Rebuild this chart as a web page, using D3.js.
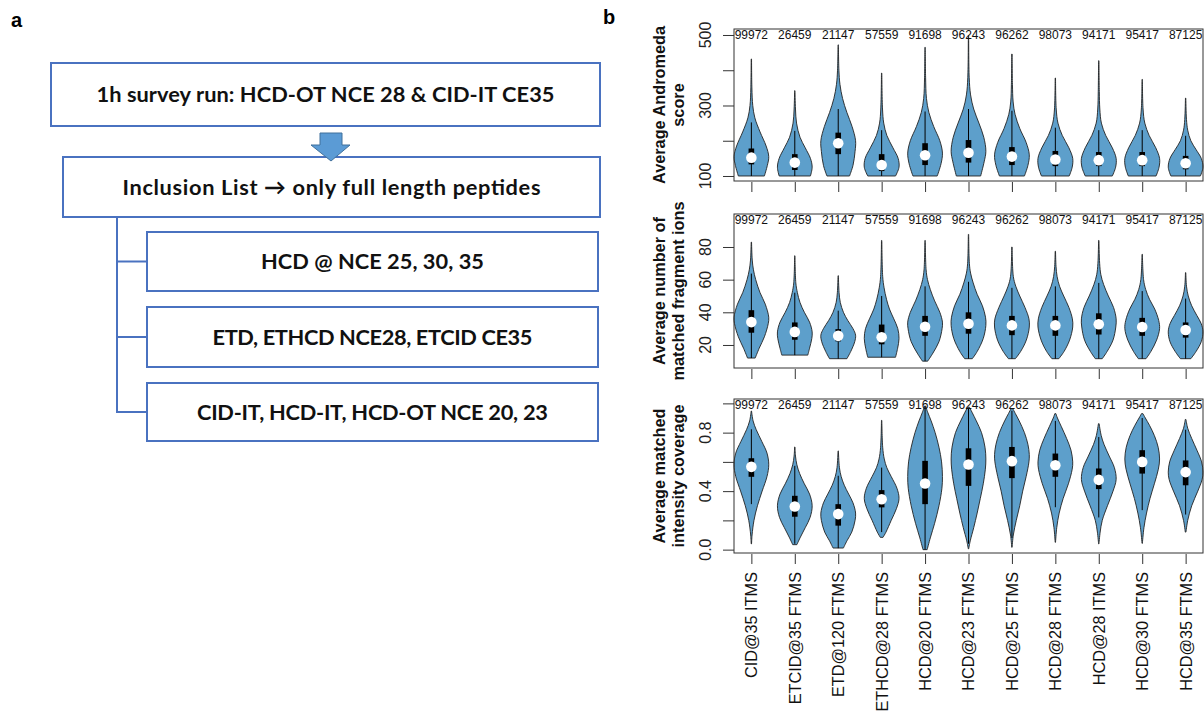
<!DOCTYPE html>
<html>
<head>
<meta charset="utf-8">
<script src="https://cdn.jsdelivr.net/npm/d3@7"></script>
<style>
  body { margin: 0; background: #fff; }
  svg { display: block; font-family: "Liberation Sans", Arial, sans-serif; }
</style>
</head>
<body>
<div id="chart"></div>
<script>
// ---- data ----
const flowSteps = [
  "1h survey run: HCD-OT NCE 28 & CID-IT CE35",
  "Inclusion List \u2192 only full length peptides",
  "HCD @ NCE 25, 30, 35",
  "ETD, ETHCD NCE28, ETCID CE35",
  "CID-IT, HCD-IT, HCD-OT NCE 20, 23"
];

const categories = ["CID@35 ITMS", "ETCID@35 FTMS", "ETD@120 FTMS", "ETHCD@28 FTMS", "HCD@20 FTMS",
  "HCD@23 FTMS", "HCD@25 FTMS", "HCD@28 FTMS", "HCD@28 ITMS", "HCD@30 FTMS", "HCD@35 FTMS"];
const counts = [99972, 26459, 21147, 57559, 91698, 96243, 96262, 98073, 94171, 95417, 87125];

// panel 1: average Andromeda score
const scoreMedian = [152, 138, 193, 131, 159, 166, 155, 147, 145, 145, 136];
const scoreQ1 = [133, 117, 162, 114, 131, 138, 131, 128, 128, 128, 119];
const scoreQ3 = [178, 162, 223, 162, 193, 202, 182, 171, 168, 168, 157];
const scoreWhiskLo = [100, 100, 100, 100, 100, 100, 100, 100, 100, 100, 100];
const scoreWhiskHi = [252, 228, 290, 230, 283, 290, 285, 237, 230, 230, 214];
// violin outlines: [value, relative half width]
const scoreShape = [
  [[100,0.75],[130,0.92],[155,1],[185,0.85],[225,0.5],[265,0.2],[300,0.08],[350,0.03],[432,0.01]],
  [[100,0.9],[125,1],[150,0.9],[180,0.6],[210,0.3],[250,0.1],[290,0.04],[342,0.01]],
  [[100,0.65],[130,0.85],[170,0.97],[200,1],[240,0.8],[280,0.5],[320,0.25],[360,0.1],[400,0.04],[472,0.01]],
  [[100,0.8],[125,1],[150,0.95],[180,0.65],[215,0.3],[250,0.12],[290,0.05],[392,0.01]],
  [[100,0.7],[135,0.92],[165,1],[200,0.85],[240,0.5],[280,0.22],[320,0.08],[380,0.03],[465,0.01]],
  [[100,0.7],[140,0.9],[170,1],[210,0.88],[250,0.6],[290,0.3],[330,0.12],[380,0.04],[498,0.01]],
  [[100,0.72],[130,0.92],[160,1],[195,0.82],[235,0.45],[275,0.18],[310,0.07],[360,0.03],[446,0.01]],
  [[100,0.8],[125,0.97],[150,1],[180,0.78],[215,0.4],[250,0.15],[290,0.05],[378,0.01]],
  [[100,0.78],[125,0.97],[150,1],[180,0.78],[215,0.4],[250,0.15],[290,0.06],[340,0.03],[427,0.01]],
  [[100,0.8],[125,0.97],[150,1],[180,0.78],[215,0.4],[250,0.15],[290,0.05],[374,0.01]],
  [[100,0.85],[125,1],[150,0.9],[175,0.6],[200,0.3],[230,0.12],[260,0.05],[321,0.01]]
];

// panel 2: average number of matched fragment ions
const ionsMedian = [34, 28, 25.6, 24.7, 31.2, 33, 32, 32, 32.7, 31, 29.2];
const ionsQ1 = [27.5, 23.2, 22.2, 20.4, 25.6, 26.9, 26, 25.6, 26.4, 25.6, 24.5];
const ionsQ3 = [41.3, 33.8, 29.7, 32.5, 37.8, 40, 37.8, 37.8, 39.4, 36.6, 33.8];
const ionsWhiskLo = [12, 13.8, 11.6, 12.5, 10.1, 11.6, 11.6, 11.6, 11.6, 11.6, 11.6];
const ionsWhiskHi = [63.7, 52, 41, 50, 55.9, 58.7, 55, 55.9, 58, 53, 48.4];
const ionsShape = [
  [[12,0.22],[18,0.45],[25,0.75],[33,0.97],[37,1],[45,0.8],[52,0.5],[60,0.25],[66,0.12],[72,0.05],[83,0.01]],
  [[13.8,0.75],[18,0.85],[24,0.98],[28,1],[34,0.85],[40,0.55],[46,0.3],[52,0.15],[58,0.06],[74.6,0.01]],
  [[11.6,0.5],[16,0.72],[22,0.95],[26,1],[30,0.85],[35,0.55],[40,0.3],[46,0.12],[52,0.05],[62.4,0.01]],
  [[12.5,0.8],[18,0.92],[24,1],[30,0.93],[36,0.7],[42,0.45],[48,0.28],[55,0.14],[62,0.06],[84,0.01]],
  [[10.1,0.15],[15,0.45],[22,0.8],[30,0.98],[34,1],[40,0.85],[47,0.55],[54,0.3],[60,0.14],[66,0.06],[84,0.01]],
  [[11.6,0.22],[16,0.5],[24,0.85],[32,1],[37,0.98],[44,0.8],[51,0.5],[58,0.27],[64,0.12],[70,0.05],[87.7,0.01]],
  [[11.6,0.2],[16,0.5],[23,0.83],[31,1],[36,0.98],[43,0.75],[50,0.45],[56,0.22],[62,0.08],[80,0.01]],
  [[11.6,0.2],[16,0.5],[23,0.82],[31,1],[36,0.98],[43,0.78],[50,0.48],[56,0.24],[62,0.1],[68,0.04],[77.4,0.01]],
  [[11.6,0.2],[16,0.48],[23,0.82],[31,0.98],[36,1],[43,0.85],[50,0.55],[57,0.28],[63,0.12],[70,0.05],[84,0.01]],
  [[11.6,0.22],[16,0.5],[23,0.83],[30,1],[35,0.95],[42,0.72],[48,0.42],[54,0.2],[60,0.08],[75.5,0.01]],
  [[11.6,0.3],[16,0.6],[22,0.9],[28,1],[33,0.9],[38,0.65],[44,0.35],[50,0.15],[56,0.05],[64.3,0.01]]
];

// panel 3: average matched intensity coverage
const covMedian = [0.566, 0.295, 0.243, 0.345, 0.452, 0.582, 0.605, 0.577, 0.477, 0.6, 0.53];
const covQ1 = [0.498, 0.225, 0.164, 0.289, 0.311, 0.436, 0.489, 0.498, 0.414, 0.52, 0.44];
const covQ3 = [0.625, 0.368, 0.311, 0.407, 0.607, 0.693, 0.702, 0.657, 0.555, 0.68, 0.61];
const covWhiskLo = [0.311, 0.04, 0.01, 0.12, 0.0, 0.04, 0.08, 0.29, 0.22, 0.27, 0.24];
const covWhiskHi = [0.823, 0.573, 0.505, 0.561, 0.98, 0.97, 0.95, 0.88, 0.77, 0.9, 0.82];
const covShape = [
  [[0.039,0.01],[0.1,0.04],[0.2,0.15],[0.3,0.35],[0.4,0.62],[0.5,0.9],[0.58,1],[0.66,0.9],[0.74,0.6],[0.82,0.28],[0.88,0.1],[0.948,0.01]],
  [[0.034,0.12],[0.08,0.3],[0.15,0.6],[0.22,0.88],[0.3,1],[0.38,0.85],[0.45,0.55],[0.52,0.28],[0.58,0.12],[0.64,0.04],[0.702,0.01]],
  [[0.011,0.3],[0.06,0.5],[0.12,0.78],[0.2,0.97],[0.25,1],[0.32,0.85],[0.38,0.6],[0.44,0.35],[0.5,0.17],[0.56,0.07],[0.675,0.01]],
  [[0.084,0.08],[0.12,0.25],[0.2,0.55],[0.28,0.85],[0.35,1],[0.42,0.88],[0.5,0.55],[0.56,0.3],[0.62,0.15],[0.7,0.06],[0.884,0.01]],
  [[0.0,0.12],[0.08,0.3],[0.18,0.55],[0.3,0.8],[0.42,0.97],[0.5,1],[0.6,0.95],[0.7,0.8],[0.8,0.58],[0.88,0.35],[0.94,0.15],[0.982,0.03]],
  [[0.005,0.01],[0.06,0.1],[0.15,0.3],[0.25,0.5],[0.35,0.68],[0.45,0.85],[0.55,0.97],[0.62,1],[0.7,0.95],[0.8,0.75],[0.88,0.45],[0.94,0.2],[0.975,0.05]],
  [[0.016,0.01],[0.1,0.08],[0.2,0.25],[0.3,0.45],[0.4,0.62],[0.5,0.82],[0.6,0.98],[0.65,1],[0.72,0.92],[0.8,0.72],[0.88,0.42],[0.93,0.2],[0.964,0.05]],
  [[0.05,0.01],[0.15,0.08],[0.25,0.22],[0.35,0.45],[0.45,0.75],[0.55,0.97],[0.6,1],[0.68,0.9],[0.76,0.65],[0.84,0.35],[0.9,0.12],[0.93,0.03]],
  [[0.039,0.01],[0.12,0.08],[0.2,0.2],[0.3,0.5],[0.4,0.82],[0.48,1],[0.56,0.9],[0.64,0.6],[0.72,0.3],[0.78,0.14],[0.861,0.02]],
  [[0.043,0.01],[0.15,0.1],[0.25,0.25],[0.35,0.45],[0.45,0.7],[0.55,0.93],[0.62,1],[0.7,0.92],[0.78,0.7],[0.85,0.42],[0.9,0.18],[0.93,0.04]],
  [[0.12,0.02],[0.2,0.12],[0.3,0.35],[0.4,0.7],[0.48,0.95],[0.53,1],[0.6,0.92],[0.68,0.65],[0.76,0.35],[0.83,0.12],[0.89,0.02]]
];

// ---- page ----
const W = 1204, H = 713;
const svg = d3.select("#chart").append("svg")
  .attr("width", W)
  .attr("height", H);
svg.append("rect").attr("width", W).attr("height", H).attr("fill", "#fff");

// panel letters
svg.append("text").attr("x", 11).attr("y", 27).attr("font-size", 20).attr("font-weight", "bold").text("a");
svg.append("text").attr("x", 603).attr("y", 24).attr("font-size", 20).attr("font-weight", "bold").text("b");

// ---- flowchart (panel a) ----
const flowBoxes = [
  { x: 51, y: 63, w: 549, h: 63, tw: 458 },
  { x: 63, y: 157, w: 537, h: 60, tw: 418 },
  { x: 147, y: 232, w: 451, h: 59, tw: 223 },
  { x: 147, y: 307, w: 451, h: 60, tw: 320 },
  { x: 147, y: 383, w: 451, h: 58, tw: 351 }
];
const flowBlue = "#4a72c0";

const flow = svg.append("g");

// connector from the inclusion list box to the three method boxes
flow.append("line")
  .attr("x1", 117).attr("x2", 117)
  .attr("y1", 217).attr("y2", flowBoxes[4].y + flowBoxes[4].h / 2)
  .attr("stroke", flowBlue).attr("stroke-width", 2);
flow.selectAll(".branch")
  .data(flowBoxes.slice(2))
  .enter().append("line")
  .attr("class", "branch")
  .attr("x1", 116).attr("x2", d => d.x)
  .attr("y1", d => d.y + d.h / 2).attr("y2", d => d.y + d.h / 2)
  .attr("stroke", flowBlue).attr("stroke-width", 2);

flow.selectAll(".fbox")
  .data(flowBoxes)
  .enter().append("rect")
  .attr("class", "fbox")
  .attr("x", d => d.x).attr("y", d => d.y)
  .attr("width", d => d.w).attr("height", d => d.h)
  .attr("fill", "#fff")
  .attr("stroke", flowBlue).attr("stroke-width", 2);

flow.selectAll(".ftext")
  .data(flowBoxes)
  .enter().append("text")
  .attr("class", "ftext")
  .attr("x", d => d.x + d.w / 2)
  .attr("y", d => d.y + d.h / 2)
  .attr("dy", "0.36em")
  .attr("text-anchor", "middle")
  .attr("font-family", "Lato, 'Open Sans', sans-serif")
  .attr("font-weight", "bold")
  .attr("font-size", 21.8)
  .attr("textLength", d => d.tw)
  .attr("fill", "#111")
  .text((d, i) => flowSteps[i]);

// down arrow between first two boxes
flow.append("path")
  .attr("d", "M320,133 L342,133 L342,145 L350,145 L331,161 L311,145 L320,145 Z")
  .attr("fill", "#5b9bd5")
  .attr("stroke", "#41719c")
  .attr("stroke-width", 1);

// ---- violin panels (panel b) ----
const x = d3.scaleLinear()
  .domain([0.6, 11.4])
  .range([734, 1203]);
const halfW = x(1.4) - x(1);

const panels = [
  { title: ["Average Andromeda", "score"], top: 29, bottom: 181, domain: [85.8, 517],
    ticks: [100, 200, 300, 400, 500], labels: [100, 300, 500], fmt: d3.format("d"),
    median: scoreMedian, q1: scoreQ1, q3: scoreQ3, lo: scoreWhiskLo, hi: scoreWhiskHi, shape: scoreShape },
  { title: ["Average number of", "matched fragment ions"], top: 214, bottom: 368, domain: [5.9, 100.2],
    ticks: [20, 40, 60, 80], labels: [20, 40, 60, 80], fmt: d3.format("d"),
    median: ionsMedian, q1: ionsQ1, q3: ionsQ3, lo: ionsWhiskLo, hi: ionsWhiskHi, shape: ionsShape },
  { title: ["Average matched", "intensity coverage"], top: 399, bottom: 553, domain: [-0.023, 1.03],
    ticks: [0, 0.2, 0.4, 0.6, 0.8, 1.0], labels: [0, 0.4, 0.8], fmt: d3.format(".1f"),
    median: covMedian, q1: covQ1, q3: covQ3, lo: covWhiskLo, hi: covWhiskHi, shape: covShape }
];

const violinFill = "#5d9fcb";

panels.forEach(p => {
  const y = d3.scaleLinear().domain(p.domain).range([p.bottom, p.top]);
  const g = svg.append("g");

  // violins
  p.shape.forEach((pts, i) => {
    const cx = x(i + 1);
    const area = d3.area()
      .y(d => y(d[0]))
      .x0(d => cx - d[1] * halfW)
      .x1(d => cx + d[1] * halfW)
      .curve(d3.curveCatmullRom.alpha(0.5));
    g.append("path")
      .attr("d", area(pts))
      .attr("fill", violinFill)
      .attr("stroke", "#222")
      .attr("stroke-width", 0.9);
  });

  // whiskers, boxes, medians
  g.selectAll(".whisk")
    .data(categories)
    .enter().append("line")
    .attr("x1", (d, i) => x(i + 1)).attr("x2", (d, i) => x(i + 1))
    .attr("y1", (d, i) => y(p.lo[i])).attr("y2", (d, i) => y(p.hi[i]))
    .attr("stroke", "#000").attr("stroke-width", 1);

  g.selectAll(".iqr")
    .data(categories)
    .enter().append("rect")
    .attr("x", (d, i) => x(i + 1) - 2.8)
    .attr("width", 5.6)
    .attr("y", (d, i) => y(p.q3[i]))
    .attr("height", (d, i) => y(p.q1[i]) - y(p.q3[i]))
    .attr("fill", "#000");

  g.selectAll(".med")
    .data(categories)
    .enter().append("circle")
    .attr("cx", (d, i) => x(i + 1))
    .attr("cy", (d, i) => y(p.median[i]))
    .attr("r", 5.3)
    .attr("fill", "#fff");

  // frame
  g.append("rect")
    .attr("x", x.range()[0]).attr("y", p.top)
    .attr("width", x.range()[1] - x.range()[0])
    .attr("height", p.bottom - p.top)
    .attr("fill", "none")
    .attr("stroke", "#333").attr("stroke-width", 1);

  // counts along the top
  g.selectAll(".count")
    .data(counts)
    .enter().append("text")
    .attr("x", (d, i) => x(i + 1))
    .attr("y", p.top + 9.5)
    .attr("text-anchor", "middle")
    .attr("font-size", 12)
    .attr("fill", "#111")
    .text(d => d);

  // y axis
  const yAxis = d3.axisLeft(y)
    .tickValues(p.ticks)
    .tickSize(11)
    .tickSizeOuter(0)
    .tickFormat("");
  const ya = g.append("g")
    .attr("transform", `translate(${x.range()[0]},0)`)
    .call(yAxis);
  ya.select(".domain").remove();
  ya.selectAll("line").attr("stroke", "#333");

  g.selectAll(".ylab")
    .data(p.labels)
    .enter().append("text")
    .attr("transform", d => `translate(705,${y(d)}) rotate(-90)`)
    .attr("dy", "0.36em")
    .attr("text-anchor", "middle")
    .attr("font-size", 16)
    .attr("fill", "#222")
    .text(d => p.fmt(d));

  // x ticks under each panel
  const xAxis = d3.axisBottom(x)
    .tickValues(d3.range(1, categories.length + 1))
    .tickSize(10)
    .tickSizeOuter(0)
    .tickFormat("");
  const xa = g.append("g")
    .attr("transform", `translate(0,${p.bottom + 1})`)
    .call(xAxis);
  xa.select(".domain").remove();
  xa.selectAll("line").attr("stroke", "#333");

  // axis title, two lines
  const cy = (p.top + p.bottom) / 2;
  g.selectAll(".ytitle")
    .data(p.title)
    .enter().append("text")
    .attr("transform", (d, i) => `translate(${659 + i * 19},${cy}) rotate(-90)`)
    .attr("dy", "0.36em")
    .attr("text-anchor", "middle")
    .attr("font-size", 16.3)
    .attr("font-weight", "bold")
    .attr("fill", "#111")
    .text(d => d);
});

// category labels under the last panel
svg.selectAll(".cat")
  .data(categories)
  .enter().append("text")
  .attr("transform", (d, i) => `translate(${x(i + 1)},572) rotate(-90)`)
  .attr("dy", "0.36em")
  .attr("text-anchor", "end")
  .attr("font-size", 16.3)
  .attr("fill", "#111")
  .text(d => d);
</script>
</body>
</html>
